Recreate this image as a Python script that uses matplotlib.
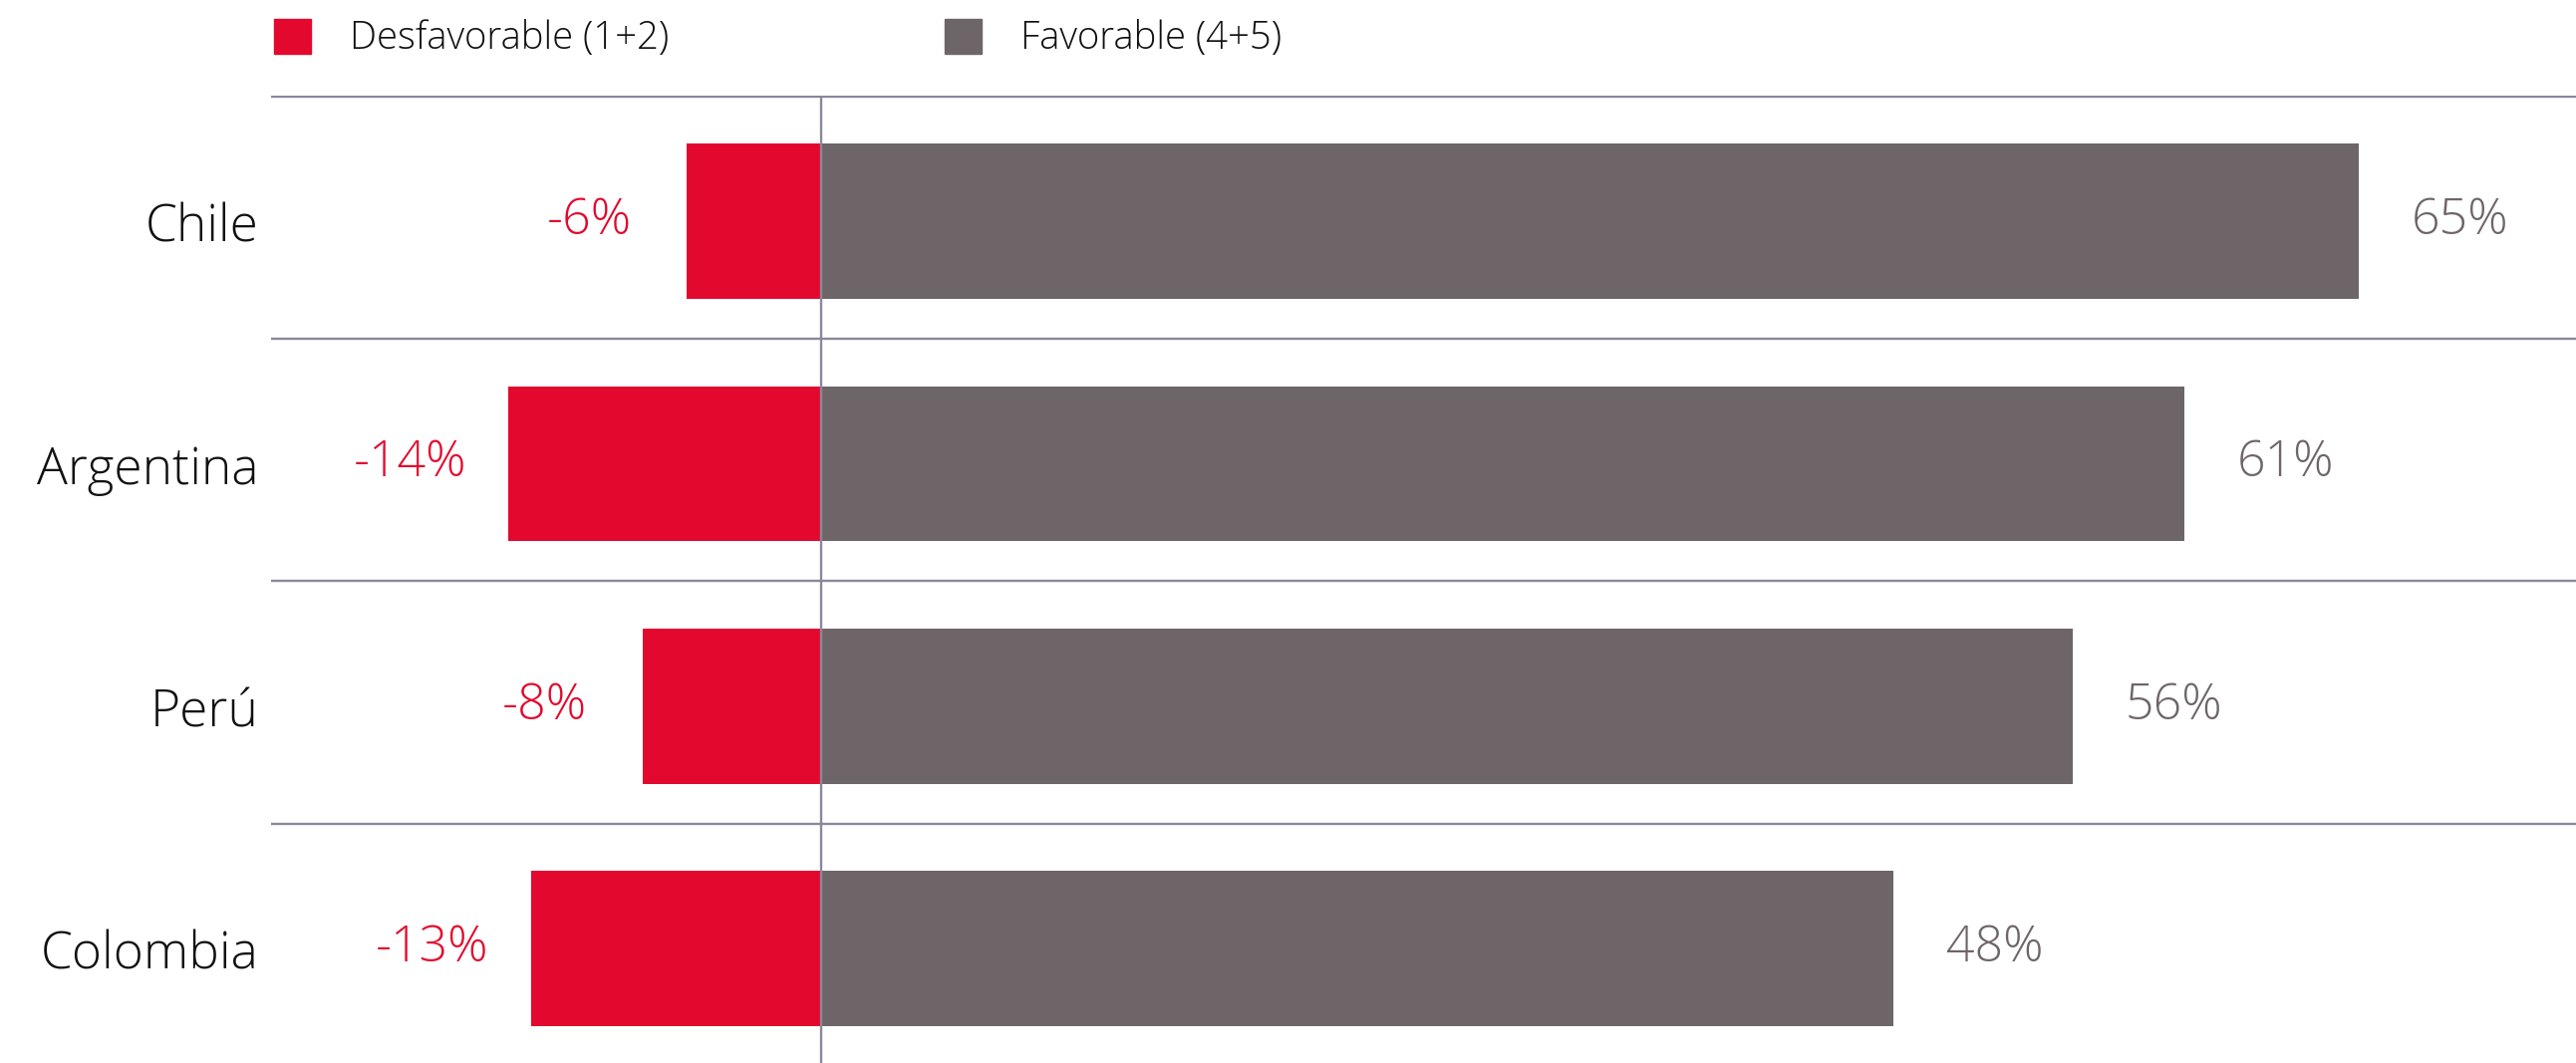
import matplotlib
matplotlib.use("Agg")
import matplotlib.pyplot as plt
import matplotlib.transforms as mtransforms
from matplotlib.patches import Rectangle
import numpy as np

# ---- data ----
countries = ["Chile", "Argentina", "Perú", "Colombia"]
unfav = [-6, -14, -8, -13]
fav_bar = [68.8, 61, 56, 48]          # bar lengths as drawn
fav_labels = ["65%", "61%", "56%", "48%"]
unfav_labels = ["-6%", "-14%", "-8%", "-13%"]
legend_labels = ["Desfavorable (1+2)", "Favorable (4+5)"]

RED = "#E3092E"
GRAY = "#6E6568"
LINE = "#8A879C"
TXT = "#111111"

plt.rcParams['font.family'] = ['Open Sans', 'DejaVu Sans']
WT = 300

W, H = 2585, 1067
fig = plt.figure(figsize=(W / 100, H / 100), dpi=100)
ax = fig.add_axes([272 / W, 0, 1 - 272 / W, (H - 95.6) / H])

y = np.arange(len(countries))
ax.barh(y, unfav, height=0.64, color=RED, zorder=2)
ax.barh(y, fav_bar, height=0.64, color=GRAY, zorder=2)

ax.set_xlim(-24.62, 78.54)
ax.set_ylim(3.472, -0.52)

for yy in y:
    ax.axhline(yy - 0.515, color=LINE, lw=1.7, zorder=3)
ax.axvline(0, color=LINE, lw=1.7, zorder=4)

for yy, v, lab in zip(y, unfav, unfav_labels):
    ax.annotate(lab, (v, yy), xytext=(-71, 0), textcoords="offset points",
                ha="center", va="center", color=RED, fontsize=36, fontweight=WT)
for yy, v, lab in zip(y, fav_bar, fav_labels):
    ax.annotate(lab, (v, yy), xytext=(38, 0), textcoords="offset points",
                ha="left", va="center", color=GRAY, fontsize=36, fontweight=WT)

ax.set_yticks(y)
ax.set_yticklabels(countries, fontsize=37, color=TXT, fontweight=WT)
ax.tick_params(axis="y", length=0, pad=9)
shift = mtransforms.ScaledTranslation(0, -0.5 / 72, fig.dpi_scale_trans)
for t in ax.get_yticklabels():
    t.set_transform(t.get_transform() + shift)
ax.set_xticks([])
for s in ax.spines.values():
    s.set_visible(False)

# legend (manual)
fig.patches.append(Rectangle((275 / W, 1 - 54 / H), 37 / W, 35 / H,
                             transform=fig.transFigure, color=RED))
fig.text(351 / W, 1 - 39 / H, legend_labels[0], fontsize=27.5, color=TXT,
         va="center", ha="left", fontweight=WT)
fig.patches.append(Rectangle((948 / W, 1 - 54 / H), 37 / W, 35 / H,
                             transform=fig.transFigure, color=GRAY))
fig.text(1024 / W, 1 - 39 / H, legend_labels[1], fontsize=27.5, color=TXT,
         va="center", ha="left", fontweight=WT)

fig.savefig("out.png", dpi=100)
